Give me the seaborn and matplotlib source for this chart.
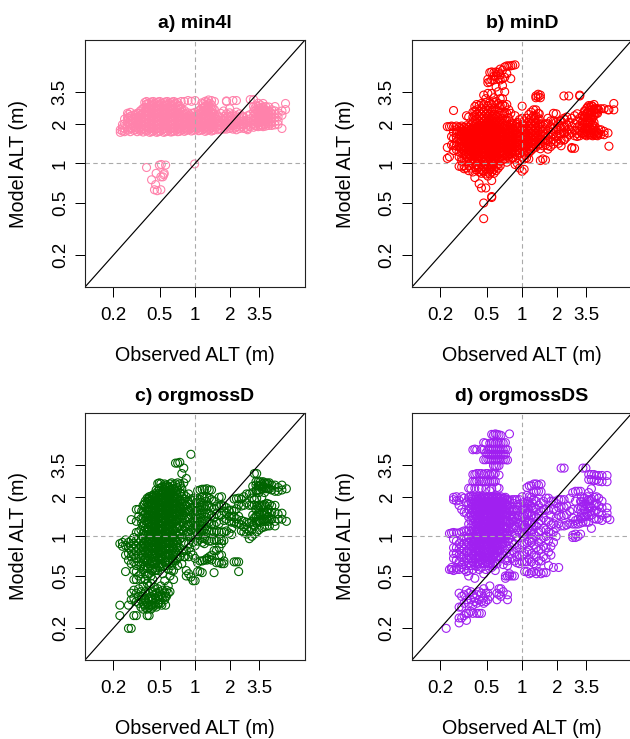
import pandas as pd
import matplotlib.pyplot as plt
import seaborn as sns
from matplotlib.ticker import FixedLocator, FixedFormatter, NullLocator

# each obs value goes with the list of model values read at that x
obs_a = [0.23, 0.24, 0.25, 0.265, 0.28, 0.30, 0.32, 0.34, 0.36, 0.385, 0.41, 0.44, 0.47, 0.50, 0.54, 0.58, 0.62,
         0.66, 0.71, 0.76, 0.81, 0.87, 0.93, 1.0, 1.07, 1.14, 1.22, 1.3, 1.38, 1.46, 1.55, 1.65, 1.75, 1.85, 1.97,
         2.1, 2.25, 2.4, 2.6, 2.8, 2.95, 3.15, 3.3, 3.45, 3.6, 3.8, 4.0, 4.25, 4.5, 4.8, 5.1, 5.5, 5.9]
model_a = [
    [1.72, 1.8], [1.76, 1.86, 1.97], [1.74, 1.84, 2.0, 2.17], [1.78, 1.9, 2.05, 2.22, 2.4], [1.74, 1.85, 1.98, 2.12, 2.28, 2.44],
    [1.78, 1.9, 2.03, 2.18, 2.33], [1.74, 1.85, 1.97, 2.1, 2.25, 2.4], [1.77, 1.89, 2.02, 2.16, 2.32, 2.5], [1.73, 1.84, 1.96, 2.09, 2.24, 2.4, 2.62],
    [1.76, 1.88, 2.0, 2.14, 2.29, 2.45, 2.63, 2.82, 2.95], [1.72, 1.83, 1.95, 2.08, 2.22, 2.37, 2.53, 2.71, 2.9],
    [1.76, 1.88, 2.01, 2.15, 2.29, 2.45, 2.62, 2.8, 2.95], [1.72, 1.83, 1.95, 2.08, 2.22, 2.37, 2.53, 2.71, 2.9],
    [1.76, 1.88, 2.01, 2.15, 2.29, 2.45, 2.62, 2.8, 2.95], [1.72, 1.83, 1.95, 2.08, 2.22, 2.37, 2.53, 2.71, 2.9],
    [1.76, 1.88, 2.01, 2.15, 2.29, 2.45, 2.62, 2.8, 2.95], [1.73, 1.83, 1.95, 2.08, 2.22, 2.37, 2.53, 2.71, 2.9],
    [1.76, 1.88, 2.01, 2.15, 2.29, 2.45, 2.62, 2.8, 2.95], [1.74, 1.84, 1.95, 2.08, 2.22, 2.37, 2.53, 2.71, 2.9],
    [1.78, 1.88, 2.01, 2.15, 2.29, 2.45, 2.62, 2.95], [1.75, 1.85, 1.96, 2.08, 2.22, 2.37, 2.52, 2.95],
    [1.8, 1.9, 2.01, 2.15, 2.29, 2.42, 3.0], [1.76, 1.86, 1.96, 2.08, 2.22, 2.4, 2.96], [1.8, 1.9, 2.01, 2.15, 2.29, 2.44, 3.0],
    [1.77, 1.87, 1.97, 2.08, 2.22, 2.37, 2.5], [1.8, 1.9, 2.01, 2.15, 2.3, 2.46, 2.62, 2.88], [1.75, 1.85, 1.96, 2.08, 2.22, 2.37, 2.53, 2.72, 2.96],
    [1.8, 1.9, 2.01, 2.15, 2.3, 2.46, 2.64, 2.84, 3.03], [1.76, 1.86, 1.97, 2.1, 2.24, 2.4, 2.58, 2.78, 3.0], [1.8, 1.92, 2.06, 2.2, 2.36, 2.56, 2.95],
    [1.8, 1.92, 2.03, 2.16, 2.3], [1.82, 1.94, 2.06, 2.22, 2.4], [1.82, 1.95, 2.1, 2.27, 2.5], [1.82, 1.93, 2.06, 2.2, 2.38, 2.95, 2.98],
    [1.84, 1.96, 2.08, 2.24, 2.42, 2.6], [1.82, 1.93, 2.05, 2.2, 2.35, 3.0], [1.8, 1.9, 2.02, 2.16, 2.3, 2.45, 3.0],
    [1.84, 1.95, 2.08, 2.22, 2.38], [1.84, 1.96, 2.1, 2.25], [1.8, 1.84, 1.95, 2.1, 2.3], [1.9, 2.03, 2.18, 2.35, 3.05],
    [1.88, 2.0, 2.14, 2.3, 2.48, 2.7, 3.05], [1.92, 2.05, 2.2, 2.36, 2.55, 2.74], [1.9, 2.02, 2.16, 2.32, 2.5, 2.7, 2.86],
    [1.92, 2.06, 2.2, 2.36, 2.55, 2.78], [1.9, 2.02, 2.16, 2.32, 2.5, 2.68, 2.85], [1.92, 2.05, 2.2, 2.36, 2.52, 2.7], [1.94, 2.06, 2.2, 2.34, 2.5, 2.68],
    [1.94, 2.08, 2.22, 2.38, 2.55], [1.96, 2.08, 2.22, 2.36, 2.5, 2.7], [1.98, 2.1, 2.26, 2.42], [1.84, 2.32, 2.5], [2.56, 2.85],
]
obs_a_low = [0.385, 0.495, 0.515, 0.56, 0.465, 0.545, 0.53, 0.51, 0.425, 0.46, 0.45, 0.475, 0.51, 0.99, 0.54]
model_a_low = [0.93, 0.97, 0.98, 0.97, 0.84, 0.84, 0.79, 0.79, 0.75, 0.69, 0.63, 0.62, 0.63, 0.99, 0.82]
# second pass over the solid part of the pink band
obs_a_fill = [0.27, 0.29, 0.31, 0.33, 0.35, 0.372, 0.397, 0.425, 0.455, 0.485, 0.52, 0.56, 0.6, 0.64, 0.685, 0.735, 0.785, 0.84, 0.9,
              0.965, 1.03, 1.1, 1.18, 1.26, 1.34, 1.42, 1.6, 1.8, 2.0, 2.2, 2.5, 2.7, 3.22, 3.52, 3.7, 3.9, 4.12, 4.4]
model_a_fill = [
    [1.82, 2.0, 2.2, 2.35], [1.85, 2.0, 2.15, 2.3], [1.8, 1.92, 2.06, 2.2, 2.36], [1.82, 1.95, 2.08, 2.24, 2.4], [1.8, 1.92, 2.05, 2.2, 2.36, 2.55], [1.8, 1.92, 2.05, 2.18, 2.33, 2.49, 2.66, 2.9],
    [1.79, 1.91, 2.04, 2.18, 2.33, 2.49, 2.66, 2.85], [1.74, 1.85, 1.98, 2.11, 2.25, 2.41, 2.57, 2.75, 2.93], [1.79, 1.91, 2.04, 2.18, 2.33, 2.49, 2.66, 2.85], [1.74, 1.85, 1.98, 2.11, 2.25, 2.41, 2.57, 2.75, 2.93],
    [1.79, 1.91, 2.04, 2.18, 2.33, 2.49, 2.66, 2.85], [1.74, 1.85, 1.98, 2.11, 2.25, 2.41, 2.57, 2.75, 2.93], [1.79, 1.91, 2.04, 2.18, 2.33, 2.49, 2.66, 2.85], [1.74, 1.85, 1.98, 2.11, 2.25, 2.41, 2.57, 2.75, 2.93],
    [1.79, 1.91, 2.04, 2.18, 2.33, 2.49, 2.66, 2.85], [1.75, 1.85, 1.98, 2.11, 2.25, 2.41, 2.57, 2.75], [1.8, 1.91, 2.04, 2.18, 2.33, 2.49], [1.78, 1.85, 1.98, 2.11, 2.25, 2.38], [1.82, 1.93, 2.04, 2.18, 2.33],
    [1.78, 1.88, 1.98, 2.11, 2.25, 2.4], [1.82, 1.93, 2.04, 2.18, 2.33], [1.78, 1.88, 1.98, 2.11, 2.25, 2.41, 2.55], [1.82, 1.93, 2.04, 2.18, 2.33, 2.49, 2.66, 2.85], [1.78, 1.88, 1.98, 2.11, 2.25, 2.41, 2.57, 2.75, 2.92],
    [1.82, 1.93, 2.04, 2.18, 2.33, 2.49, 2.66, 2.85], [1.78, 1.88, 1.98, 2.11, 2.25, 2.41, 2.6], [1.85, 1.98, 2.1, 2.25], [1.88, 2.0, 2.13, 2.28], [1.88, 2.0, 2.12, 2.28], [1.86, 1.98, 2.1, 2.25], [1.9, 2.0, 2.14, 2.28], [1.88, 2.0, 2.12],
    [1.95, 2.08, 2.22, 2.4, 2.6], [1.96, 2.1, 2.26, 2.44, 2.62], [1.96, 2.1, 2.27, 2.44, 2.62], [1.97, 2.1, 2.26, 2.42, 2.58], [2.0, 2.13, 2.28, 2.44], [2.0, 2.14, 2.28, 2.44],
]

obs_b = [0.23, 0.24, 0.25, 0.26, 0.275, 0.29, 0.305, 0.32, 0.335, 0.35, 0.365, 0.38, 0.395, 0.41, 0.43, 0.45, 0.47, 0.49,
         0.51, 0.53, 0.55, 0.575, 0.6, 0.625, 0.65, 0.68, 0.71, 0.74, 0.77, 0.8, 0.83, 0.87, 0.91, 0.95, 1.0, 1.04, 1.09,
         1.14, 1.19, 1.25, 1.31, 1.37, 1.43, 1.5, 1.58, 1.66, 1.75, 1.85, 1.95, 2.05, 2.15, 2.27, 2.4, 2.5, 2.65, 2.8,
         2.95, 3.1, 3.25, 3.4, 3.55, 3.7, 3.9, 4.1, 4.3, 4.5, 4.7, 5.0, 5.4, 5.5, 6.05]
model_b = [
    [1.9, 1.32, 1.09], [1.9, 1.12], [1.92, 1.6, 1.38], [2.52, 1.9, 1.72, 1.55, 1.36, 1.25], [1.92, 1.8, 1.68, 1.57, 1.46, 1.36, 1.27],
    [1.88, 1.76, 1.64, 1.53, 1.43, 1.33, 1.22, 1.12, 0.95], [1.92, 1.8, 1.7, 1.6, 1.5, 1.4, 1.3, 1.2, 1.1, 1.04, 0.94],
    [1.88, 1.76, 1.65, 1.55, 1.45, 1.36, 1.26, 1.16, 1.08, 0.96, 0.91], [2.3, 1.93, 1.8, 1.7, 1.6, 1.5, 1.41, 1.31, 1.22, 1.12, 1.03, 0.92],
    [2.25, 1.88, 1.76, 1.65, 1.55, 1.45, 1.36, 1.27, 1.18, 1.09, 0.96, 0.88], [1.96, 1.83, 1.71, 1.6, 1.5, 1.41, 1.31, 1.22, 1.13, 1.05, 0.92],
    [2.45, 2.25, 2.05, 1.9, 1.77, 1.66, 1.55, 1.45, 1.36, 1.26, 1.17, 1.09, 1.0, 0.86], [2.7, 2.5, 2.3, 2.12, 1.97, 1.83, 1.71, 1.6, 1.5, 1.4, 1.31, 1.22, 1.13, 1.04, 0.93, 0.78],
    [2.8, 2.55, 2.36, 2.18, 2.02, 1.88, 1.76, 1.65, 1.55, 1.45, 1.35, 1.26, 1.17, 1.08, 0.98, 0.89],
    [2.75, 2.48, 2.28, 2.1, 1.95, 1.82, 1.7, 1.6, 1.5, 1.4, 1.31, 1.22, 1.13, 1.04, 0.94, 0.86, 0.7], [2.85, 2.6, 2.36, 2.18, 2.02, 1.88, 1.76, 1.65, 1.55, 1.45, 1.36, 1.26, 1.17, 1.08, 0.98, 0.9, 0.84, 0.65],
    [3.3, 2.8, 2.5, 2.28, 2.1, 1.95, 1.82, 1.7, 1.6, 1.5, 1.4, 1.31, 1.22, 1.13, 1.04, 0.94, 0.86, 0.5, 0.38], [3.1, 2.9, 2.6, 2.36, 2.18, 2.02, 1.88, 1.76, 1.65, 1.55, 1.45, 1.36, 1.26, 1.17, 1.08, 0.98, 0.9, 0.83, 0.65],
    [4.35, 4.1, 3.4, 2.75, 2.5, 2.28, 2.1, 1.95, 1.82, 1.7, 1.6, 1.5, 1.4, 1.31, 1.22, 1.13, 1.04, 0.94, 0.86, 0.8],
    [4.9, 4.15, 2.9, 2.6, 2.36, 2.18, 2.02, 1.88, 1.76, 1.65, 1.55, 1.45, 1.36, 1.26, 1.17, 1.08, 0.98, 0.9, 0.83],
    [4.95, 4.3, 3.4, 2.8, 2.5, 2.28, 2.1, 1.95, 1.82, 1.7, 1.6, 1.5, 1.4, 1.31, 1.22, 1.13, 1.04, 0.94, 0.86, 0.74, 0.56, 0.55],
    [4.9, 4.6, 4.3, 3.15, 2.9, 2.6, 2.36, 2.18, 2.02, 1.88, 1.76, 1.65, 1.55, 1.45, 1.36, 1.26, 1.17, 1.08, 0.98, 0.9, 0.84],
    [4.95, 4.6, 3.8, 2.95, 2.55, 2.28, 2.1, 1.95, 1.82, 1.7, 1.6, 1.5, 1.4, 1.31, 1.22, 1.13, 1.04, 0.95, 0.88],
    [4.9, 4.4, 3.5, 2.85, 2.45, 2.22, 2.03, 1.88, 1.76, 1.65, 1.55, 1.45, 1.36, 1.26, 1.17, 1.08, 0.98, 0.92],
    [5.2, 4.7, 4.3, 3.1, 2.75, 2.4, 2.15, 1.97, 1.82, 1.7, 1.6, 1.5, 1.4, 1.31, 1.22, 1.13, 1.04, 0.96],
    [5.1, 4.4, 3.9, 3.1, 2.8, 2.45, 2.2, 2.0, 1.86, 1.74, 1.63, 1.52, 1.43, 1.33, 1.24, 1.15, 1.06],
    [5.4, 4.5, 3.5, 2.72, 2.4, 2.12, 1.93, 1.8, 1.68, 1.57, 1.46, 1.36, 1.27, 1.18, 1.08],
    [5.5, 4.8, 2.8, 2.4, 2.1, 1.92, 1.78, 1.66, 1.55, 1.45, 1.36, 1.26, 1.14, 1.02],
    [5.5, 2.55, 2.2, 1.98, 1.82, 1.7, 1.58, 1.47, 1.37, 1.27, 1.18, 1.1],
    [5.5, 4.4, 2.4, 2.03, 1.86, 1.72, 1.6, 1.5, 1.4, 1.3, 1.18, 1.07],
    [5.55, 2.0, 1.85, 1.7, 1.58, 1.47, 1.38, 1.28, 1.18, 1.1], [5.6, 2.3, 1.92, 1.76, 1.65, 1.53, 1.43, 1.33, 1.22, 1.07, 0.98],
    [2.05, 1.86, 1.7, 1.58, 1.47, 1.37, 1.27, 1.16, 1.0], [2.15, 1.9, 1.75, 1.62, 1.5, 1.4, 1.3, 1.2, 1.05, 0.92], [2.72, 2.2, 1.98, 1.8, 1.67, 1.55, 1.44, 1.34, 1.23, 1.12, 0.87],
    [2.1, 1.9, 1.75, 1.62, 1.5, 1.4, 1.3, 1.2, 1.08, 0.9], [2.2, 2.0, 1.84, 1.7, 1.58, 1.46, 1.35, 1.25, 1.1],
    [2.35, 2.1, 1.92, 1.76, 1.62, 1.5, 1.4, 1.3, 1.2, 1.08], [2.45, 2.2, 2.0, 1.84, 1.7, 1.58, 1.46, 1.35, 1.25],
    [2.55, 2.3, 2.1, 1.92, 1.76, 1.62, 1.5, 1.4, 1.3], [3.25, 3.15, 2.55, 2.3, 2.05, 1.86, 1.7, 1.56, 1.44, 1.33], [3.35, 3.2, 2.4, 2.15, 1.95, 1.78, 1.63, 1.5, 1.38],
    [3.3, 3.15, 2.0, 1.82, 1.66, 1.52, 1.4, 1.29, 1.05], [1.9, 1.75, 1.6, 1.47, 1.36, 1.08], [2.0, 1.82, 1.65, 1.5, 1.38, 1.06], [2.2, 2.0, 1.8, 1.62, 1.48, 1.36, 1.28],
    [2.1, 1.9, 1.72, 1.58, 1.45, 1.34], [2.4, 2.1, 1.85, 1.68, 1.52, 1.4], [2.38, 2.05, 1.8, 1.62, 1.46], [1.98, 1.78, 1.6, 1.42], [2.1, 1.86, 1.68, 1.5, 1.36],
    [3.25, 2.2, 1.9, 1.7, 1.5], [2.25, 1.96, 1.76, 1.58], [3.25, 2.05, 1.82, 1.66], [2.2, 1.9, 1.7, 1.32, 1.3], [2.3, 2.0, 1.78, 1.62, 1.3], [2.38, 2.1, 1.88, 1.68, 1.6],
    [3.3, 3.25, 2.2, 1.95, 1.75, 1.62], [2.3, 2.05, 1.85, 1.68], [2.5, 2.25, 2.0, 1.8, 1.65], [2.62, 2.4, 2.15, 1.95, 1.75, 1.62], [2.75, 2.5, 2.3, 2.1, 1.88, 1.65],
    [2.75, 2.55, 2.35, 2.15, 1.95, 1.72, 1.64], [2.8, 2.55, 2.3, 2.05, 1.85, 1.68], [2.6, 2.4, 1.75, 1.64], [2.55, 1.8, 1.68], [2.6, 1.8, 1.66],
    [2.6, 1.75, 1.65], [2.55, 1.7], [1.35, 2.55], [2.85, 2.55],
]
obs_b_fill = [0.3, 0.33, 0.36, 0.39, 0.42, 0.46, 0.5, 0.54, 0.59, 0.64, 0.69, 0.75, 0.82, 0.89, 1.06, 1.17, 1.28, 1.4, 2.1, 2.3, 3.3, 3.45, 3.62, 3.8, 4.0, 4.2, 4.4]
model_b_fill = [
    [1.84, 1.66, 1.47, 1.34], [1.84, 1.64, 1.46, 1.29, 1.16], [1.8, 1.67, 1.54, 1.44, 1.34, 1.24, 1.15], [1.85, 1.7, 1.58, 1.47, 1.37, 1.26, 1.16, 1.06],
    [1.86, 1.73, 1.62, 1.52, 1.43, 1.34, 1.24, 1.15, 1.06, 0.92], [2.2, 1.92, 1.79, 1.68, 1.58, 1.48, 1.38, 1.29, 1.2, 1.1, 1.02, 0.88], [2.4, 2.05, 1.85, 1.73, 1.62, 1.52, 1.43, 1.34, 1.24, 1.15, 1.06, 0.96],
    [2.2, 1.92, 1.79, 1.68, 1.58, 1.48, 1.38, 1.29, 1.2, 1.1, 1.02, 0.9], [2.3, 2.05, 1.85, 1.73, 1.62, 1.52, 1.43, 1.34, 1.24, 1.15, 1.06], [2.65, 2.1, 1.92, 1.79, 1.68, 1.58, 1.48, 1.38, 1.29, 1.2, 1.1], [2.3, 1.88, 1.73, 1.62, 1.52, 1.43, 1.34, 1.24, 1.15],
    [1.92, 1.79, 1.68, 1.55, 1.42, 1.33, 1.23, 1.14], [1.95, 1.73, 1.62, 1.52, 1.42, 1.32, 1.23], [1.98, 1.8, 1.66, 1.53, 1.43, 1.33, 1.24], [1.95, 1.8, 1.65, 1.53, 1.43, 1.33, 1.24, 1.15], [2.0, 1.84, 1.68, 1.55, 1.44, 1.34, 1.25], [2.2, 2.02, 1.85, 1.7, 1.57, 1.45],
    [2.38, 2.18, 1.98, 1.8, 1.64, 1.5, 1.4], [2.1, 1.9, 1.68], [2.15, 1.9, 1.7, 1.52], [2.3, 2.1, 1.88, 1.7], [2.5, 2.25, 2.05, 1.85, 1.7], [2.68, 2.42, 2.22, 2.05, 1.84, 1.7], [2.68, 2.42, 2.2, 2.02, 1.82, 1.66], [2.7, 2.45, 2.22, 1.98, 1.78, 1.62], [2.6, 2.42, 1.9, 1.72, 1.63], [2.6, 2.4, 1.7, 1.62],
]

obs_c = [0.228, 0.24, 0.255, 0.27, 0.285, 0.3, 0.315, 0.33, 0.345, 0.36, 0.375, 0.39, 0.405, 0.42, 0.435, 0.45, 0.465, 0.48, 0.495,
         0.51, 0.53, 0.55, 0.57, 0.59, 0.61, 0.63, 0.655, 0.68, 0.71, 0.74, 0.77, 0.8, 0.84, 0.88, 0.92, 0.96, 1.0, 1.05, 1.1,
         1.15, 1.2, 1.26, 1.32, 1.38, 1.45, 1.52, 1.6, 1.68, 1.76, 1.85, 1.95, 2.05, 2.15, 2.25, 2.35, 2.48, 2.6, 2.75, 2.9,
         3.05, 3.2, 3.35, 3.5, 3.7, 3.9, 4.1, 4.3, 4.5, 4.8, 5.1, 5.5, 6.0]
model_c = [
    [0.88, 0.25, 0.3], [0.9, 0.84], [0.94, 0.85, 0.72, 0.54], [0.9, 0.82, 0.74, 0.66, 0.3, 0.2], [1.34, 0.93, 0.84, 0.77, 0.7, 0.62, 0.2, 0.37, 0.33],
    [0.98, 0.88, 0.8, 0.72, 0.64, 0.55, 0.47, 0.39, 0.34, 0.25], [1.6, 1.3, 1.07, 0.93, 0.84, 0.76, 0.68, 0.6, 0.54, 0.47, 0.37, 0.32, 0.25],
    [1.6, 1.42, 1.08, 0.97, 0.89, 0.8, 0.72, 0.64, 0.5, 0.4, 0.35, 0.31], [1.36, 1.12, 0.93, 0.84, 0.76, 0.68, 0.6, 0.52, 0.47, 0.38, 0.33, 0.29],
    [1.72, 1.54, 1.38, 1.2, 1.05, 0.97, 0.88, 0.8, 0.72, 0.64, 0.56, 0.42, 0.36, 0.31, 0.28], [1.85, 1.65, 1.48, 1.32, 1.16, 1.03, 0.93, 0.84, 0.76, 0.68, 0.6, 0.52, 0.47, 0.38, 0.33, 0.29],
    [1.95, 1.76, 1.58, 1.42, 1.27, 1.13, 1.0, 0.89, 0.8, 0.72, 0.64, 0.57, 0.5, 0.44, 0.36, 0.31, 0.28, 0.25], [2.0, 1.84, 1.67, 1.52, 1.37, 1.24, 1.1, 0.97, 0.87, 0.78, 0.7, 0.62, 0.52, 0.42, 0.37, 0.33, 0.29, 0.25],
    [2.02, 1.88, 1.72, 1.58, 1.44, 1.3, 1.18, 1.05, 0.94, 0.84, 0.76, 0.68, 0.6, 0.5, 0.44, 0.35, 0.3, 0.28], [2.05, 1.9, 1.76, 1.62, 1.48, 1.35, 1.23, 1.12, 1.0, 0.9, 0.81, 0.73, 0.65, 0.57, 0.47, 0.38, 0.33, 0.29],
    [2.1, 1.94, 1.8, 1.66, 1.52, 1.4, 1.28, 1.16, 1.05, 0.95, 0.86, 0.78, 0.7, 0.62, 0.55, 0.41, 0.36, 0.31], [2.25, 2.05, 1.88, 1.73, 1.59, 1.45, 1.33, 1.21, 1.1, 0.99, 0.9, 0.82, 0.74, 0.66, 0.58, 0.37, 0.33, 0.29],
    [2.52, 2.2, 2.0, 1.84, 1.68, 1.54, 1.41, 1.28, 1.16, 1.05, 0.95, 0.86, 0.78, 0.7, 0.62, 0.55, 0.4, 0.35, 0.31], [2.55, 2.32, 2.12, 1.94, 1.78, 1.63, 1.49, 1.36, 1.24, 1.12, 1.0, 0.91, 0.82, 0.74, 0.66, 0.58, 0.38, 0.33],
    [2.52, 2.25, 2.05, 1.88, 1.72, 1.58, 1.44, 1.3, 1.18, 1.06, 0.96, 0.87, 0.78, 0.7, 0.62, 0.42, 0.36, 0.31], [2.4, 2.15, 1.96, 1.8, 1.65, 1.51, 1.38, 1.25, 1.12, 1.0, 0.92, 0.83, 0.75, 0.67, 0.59, 0.52, 0.39, 0.34],
    [2.5, 2.28, 2.08, 1.9, 1.74, 1.6, 1.46, 1.33, 1.2, 1.08, 0.97, 0.88, 0.8, 0.72, 0.64, 0.46, 0.37, 0.33], [2.45, 2.22, 2.02, 1.85, 1.69, 1.55, 1.42, 1.29, 1.16, 1.04, 0.94, 0.85, 0.77, 0.69, 0.6, 0.39, 0.35],
    [2.4, 2.18, 1.98, 1.8, 1.65, 1.5, 1.37, 1.24, 1.12, 1.0, 0.91, 0.82, 0.74, 0.66, 0.56, 0.42, 0.37], [2.5, 2.25, 2.05, 1.87, 1.7, 1.56, 1.42, 1.3, 1.18, 1.06, 0.96, 0.87, 0.79, 0.71, 0.63, 0.5, 0.38],
    [2.55, 2.3, 2.08, 1.9, 1.73, 1.58, 1.44, 1.3, 1.16, 1.04, 0.94, 0.85, 0.77, 0.68, 0.6, 0.55],
    [2.3, 2.05, 1.86, 1.7, 1.55, 1.4, 1.27, 1.13, 1.0, 0.9, 0.82, 0.74, 0.65, 0.55, 0.47], [3.6, 2.5, 2.2, 1.98, 1.78, 1.62, 1.48, 1.34, 1.2, 1.08, 0.95, 0.85, 0.76, 0.65],
    [3.6, 2.55, 2.25, 2.0, 1.8, 1.62, 1.46, 1.32, 1.16, 1.0, 0.9, 0.78, 0.68, 0.6], [3.65, 2.5, 2.15, 1.9, 1.7, 1.54, 1.38, 1.22, 1.05, 0.95, 0.82, 0.7],
    [3.0, 2.3, 2.0, 1.78, 1.6, 1.44, 1.28, 1.13, 0.98, 0.75, 0.62], [3.3, 2.55, 2.1, 1.84, 1.62, 1.44, 1.26, 1.1, 0.9, 0.78, 0.7], [2.75, 2.0, 1.72, 1.55, 1.38, 1.2, 1.05, 0.78, 0.55, 0.5],
    [2.1, 1.82, 1.58, 1.4, 1.22, 1.08, 0.88, 0.7, 0.52], [4.2, 1.9, 1.64, 1.45, 1.27, 1.12, 0.98, 0.76, 0.49], [1.95, 1.68, 1.48, 1.3, 1.15, 1.0, 0.9, 0.72, 0.46], [1.9, 1.65, 1.45, 1.28, 1.14, 1.0, 0.85, 0.68, 0.46],
    [2.22, 1.92, 1.68, 1.48, 1.3, 1.14, 1.03, 0.92, 0.63, 0.54], [2.25, 1.9, 1.66, 1.46, 1.28, 1.12, 0.95, 0.65, 0.54], [2.28, 1.98, 1.72, 1.5, 1.3, 1.12, 0.97, 0.9, 0.65, 0.53],
    [2.28, 1.95, 1.7, 1.48, 1.3, 1.13, 0.96, 0.88, 0.66], [2.3, 1.98, 1.72, 1.5, 1.3, 1.12, 0.94, 0.68, 0.66], [2.25, 1.95, 1.7, 1.48, 1.28, 1.1, 0.92, 0.7, 0.67], [2.25, 1.9, 1.66, 1.44, 1.24, 1.1, 0.92, 0.72, 0.66],
    [1.85, 1.62, 1.4, 1.22, 1.08, 0.94, 0.78, 0.53], [1.7, 1.48, 1.28, 1.1, 0.93, 0.78, 0.63], [1.98, 1.7, 1.45, 1.25, 1.08, 0.94, 0.82, 0.72, 0.63], [2.0, 1.72, 1.45, 1.08, 0.93, 0.88, 0.72, 0.62],
    [1.7, 1.55, 1.32, 1.08, 0.93, 0.65, 0.62], [1.65, 1.5, 1.35, 1.1], [1.58, 1.42, 1.3, 1.06], [1.58, 1.42, 1.28, 1.15, 1.03], [1.92, 1.55, 1.4, 1.28, 0.64], [1.93, 1.62, 1.36, 1.24, 0.64], [1.95, 1.75, 1.42, 1.26, 0.64, 0.54],
    [1.92, 1.7, 1.32, 1.22, 1.1], [2.0, 1.72, 1.3, 1.18, 1.08], [2.1, 1.8, 1.28, 1.14, 1.04], [2.1, 1.72, 1.26, 1.1, 0.96], [1.95, 1.72, 1.3, 1.12, 1.0], [3.0, 1.9, 1.73, 1.38, 1.2, 1.04], [3.0, 2.25, 1.95, 1.7, 1.42, 1.26, 1.08], [2.4, 2.15, 1.72, 1.5, 1.3, 1.12],
    [2.5, 2.3, 1.98, 1.68, 1.5, 1.34, 1.16], [2.55, 2.35, 2.15, 1.75, 1.5, 1.35, 1.18], [2.55, 2.32, 1.78, 1.52, 1.35, 1.2], [2.55, 2.3, 1.75, 1.5, 1.35, 1.2], [2.45, 2.25, 1.7, 1.52, 1.35], [2.45, 2.2, 1.72, 1.52, 1.3, 1.2], [2.35, 2.2, 1.48, 1.35], [2.45, 2.25, 1.5, 1.35], [2.3, 1.3], [2.55, 2.3],
]
obs_c_fill = [0.35, 0.37, 0.4, 0.43, 0.46, 0.49, 0.52, 0.56, 0.6, 0.645, 0.695, 0.75, 0.82, 0.9, 1.02, 1.12, 1.24, 3.1, 3.3, 3.45, 3.6, 3.8, 4.0, 4.2]
model_c_fill = [
    [1.56, 1.26, 0.84, 0.72, 0.62, 0.35], [1.76, 1.45, 1.24, 1.1, 0.88, 0.78, 0.66, 0.57, 0.34, 0.3], [1.92, 1.74, 1.58, 1.45, 1.3, 1.17, 1.04, 0.93, 0.84, 0.74, 0.66, 0.58, 0.34, 0.3],
    [1.98, 1.8, 1.64, 1.5, 1.37, 1.24, 1.12, 1.0, 0.9, 0.8, 0.72, 0.64, 0.55, 0.34, 0.3], [2.0, 1.84, 1.69, 1.55, 1.42, 1.3, 1.18, 1.08, 0.97, 0.88, 0.8, 0.72, 0.64, 0.55, 0.34, 0.3], [2.12, 1.96, 1.8, 1.66, 1.52, 1.38, 1.25, 1.13, 1.02, 0.92, 0.84, 0.76, 0.68, 0.6, 0.35, 0.31],
    [2.35, 2.15, 1.95, 1.8, 1.66, 1.52, 1.38, 1.26, 1.14, 1.02, 0.94, 0.85, 0.77, 0.69, 0.62, 0.35, 0.3], [2.35, 2.15, 1.95, 1.78, 1.62, 1.48, 1.35, 1.22, 1.1, 0.98, 0.9, 0.81, 0.73, 0.65, 0.35, 0.3], [2.35, 2.15, 1.94, 1.77, 1.61, 1.47, 1.34, 1.22, 1.1, 0.98, 0.9, 0.81, 0.73, 0.65],
    [2.42, 2.18, 1.98, 1.8, 1.64, 1.5, 1.36, 1.24, 1.1, 0.98, 0.88, 0.8, 0.72, 0.65], [2.35, 2.1, 1.9, 1.74, 1.58, 1.43, 1.3, 1.16, 1.03, 0.92, 0.82], [2.4, 2.12, 1.86, 1.68, 1.52, 1.36, 1.2, 1.05], [1.92, 1.7, 1.52, 1.33, 1.17, 1.02, 0.7], [1.76, 1.55, 1.36, 1.2, 1.04, 0.82],
    [1.8, 1.55, 1.38, 1.2, 1.08], [1.82, 1.58, 1.39, 1.2, 1.05], [1.85, 1.6, 1.4, 1.2, 1.05], [2.4, 2.15, 1.45, 1.22], [2.6, 2.45, 2.22, 1.6, 1.42, 1.3], [2.6, 2.42, 2.25, 1.65, 1.45, 1.3], [2.6, 2.42, 1.68, 1.45, 1.28], [2.6, 2.4, 1.72, 1.45, 1.3], [2.5, 2.3, 1.7, 1.45, 1.3], [2.5, 2.3, 1.6, 1.42, 1.3],
]

obs_d = [0.225, 0.24, 0.25, 0.26, 0.275, 0.29, 0.305, 0.32, 0.335, 0.35, 0.365, 0.38, 0.395, 0.41, 0.43, 0.45, 0.47, 0.49, 0.51,
         0.53, 0.55, 0.57, 0.59, 0.61, 0.635, 0.66, 0.69, 0.72, 0.75, 0.78, 0.82, 0.86, 0.9, 0.95, 1.0, 1.05, 1.1, 1.15, 1.2,
         1.26, 1.32, 1.38, 1.45, 1.52, 1.6, 1.68, 1.76, 1.85, 1.95, 2.05, 2.15, 2.28, 2.4, 2.55, 2.7, 2.85, 3.0, 3.15, 3.3,
         3.5, 3.7, 3.9, 4.1, 4.3, 4.5, 4.8, 5.3]
model_d = [
    [0.2], [0.56, 1.05], [0.58, 0.56, 1.06], [1.98, 1.9, 0.95, 0.82, 0.74, 0.68, 0.55, 1.07], [2.0, 1.86, 1.06, 0.92, 0.82, 0.74, 0.66, 0.58, 0.56],
    [1.72, 1.88, 1.06, 0.88, 0.8, 0.72, 0.64, 0.56, 0.37, 0.29, 0.24, 0.22], [2.0, 1.6, 1.08, 0.94, 0.85, 0.77, 0.69, 0.61, 0.58, 0.35, 0.29, 0.24],
    [1.95, 1.52, 1.1, 1.0, 0.88, 0.8, 0.72, 0.64, 0.56, 0.36, 0.31, 0.25], [1.82, 1.5, 1.1, 0.95, 0.85, 0.76, 0.68, 0.6, 0.54, 0.39, 0.33, 0.26, 0.23],
    [2.32, 1.98, 1.78, 1.6, 1.4, 1.24, 1.1, 0.98, 0.88, 0.8, 0.71, 0.63, 0.55, 0.5, 0.37, 0.31, 0.26], [2.3, 2.0, 1.84, 1.66, 1.48, 1.32, 1.18, 1.06, 0.95, 0.85, 0.76, 0.68, 0.6, 0.38, 0.33, 0.27],
    [4.55, 2.95, 2.62, 2.0, 1.86, 1.7, 1.54, 1.38, 1.24, 1.12, 1.0, 0.9, 0.81, 0.72, 0.64, 0.56, 0.36, 0.3, 0.26], [4.6, 2.95, 2.6, 2.32, 1.98, 1.82, 1.66, 1.5, 1.36, 1.22, 1.1, 0.98, 0.88, 0.8, 0.71, 0.63, 0.48, 0.34, 0.32],
    [4.55, 3.0, 2.62, 2.0, 1.85, 1.7, 1.55, 1.4, 1.26, 1.14, 1.03, 0.93, 0.84, 0.75, 0.67, 0.59, 0.36, 0.31, 0.26], [3.0, 2.62, 2.3, 2.0, 1.84, 1.68, 1.53, 1.38, 1.25, 1.12, 1.0, 0.9, 0.81, 0.72, 0.64, 0.56, 0.38, 0.33, 0.26],
    [4.6, 3.0, 2.6, 2.32, 1.98, 1.82, 1.67, 1.52, 1.38, 1.25, 1.13, 1.02, 0.92, 0.83, 0.74, 0.66, 0.58, 0.37, 0.32, 0.26], [5.15, 4.55, 3.82, 2.95, 2.62, 2.0, 1.86, 1.7, 1.55, 1.4, 1.26, 1.14, 1.03, 0.93, 0.84, 0.75, 0.67, 0.52, 0.4, 0.34, 0.31],
    [5.1, 4.3, 3.82, 3.0, 2.6, 2.28, 1.98, 1.82, 1.67, 1.52, 1.38, 1.25, 1.13, 1.02, 0.92, 0.83, 0.74, 0.66, 0.56, 0.37, 0.32], [4.55, 4.2, 3.85, 3.0, 2.62, 2.0, 1.85, 1.7, 1.55, 1.4, 1.26, 1.14, 1.03, 0.93, 0.84, 0.75, 0.67, 0.6, 0.37, 0.33],
    [5.1, 4.6, 4.2, 3.82, 2.95, 2.6, 2.22, 1.98, 1.82, 1.67, 1.52, 1.38, 1.25, 1.13, 1.02, 0.92, 0.83, 0.74, 0.66, 0.42, 0.35], [5.95, 5.1, 4.55, 4.15, 3.8, 3.0, 2.62, 2.3, 2.0, 1.86, 1.7, 1.55, 1.4, 1.26, 1.14, 1.03, 0.93, 0.84, 0.75, 0.67, 0.58],
    [5.9, 5.15, 4.6, 4.2, 3.82, 3.45, 2.95, 2.6, 2.02, 1.85, 1.68, 1.53, 1.38, 1.25, 1.12, 1.0, 0.9, 0.81, 0.72, 0.6], [6.0, 5.1, 4.55, 4.15, 3.8, 3.42, 3.0, 2.62, 1.98, 1.82, 1.67, 1.52, 1.38, 1.25, 1.13, 1.02, 0.92, 0.83, 0.74, 0.55],
    [5.95, 5.15, 4.6, 4.2, 3.85, 3.4, 2.35, 2.0, 1.85, 1.7, 1.55, 1.4, 1.26, 1.14, 1.03, 0.93, 0.84, 0.75, 0.62, 0.37, 0.33], [5.9, 5.1, 4.55, 4.15, 3.82, 3.45, 2.92, 2.32, 1.98, 1.82, 1.66, 1.5, 1.36, 1.22, 1.1, 0.98, 0.88, 0.78, 0.4, 0.36],
    [5.85, 5.15, 4.6, 4.2, 3.8, 2.0, 1.85, 1.68, 1.53, 1.38, 1.25, 1.12, 1.0, 0.9, 0.8, 0.68, 0.4, 0.35], [5.1, 4.55, 4.15, 3.82, 1.95, 1.8, 1.62, 1.46, 1.32, 1.18, 1.06, 0.95, 0.84, 0.72, 0.61, 0.38], [5.15, 4.6, 4.2, 3.82, 1.98, 1.8, 1.58, 1.42, 1.28, 1.14, 1.02, 0.9, 0.78, 0.66, 0.5, 0.48],
    [4.55, 3.8, 1.9, 1.7, 1.5, 1.32, 1.18, 1.05, 0.92, 0.8, 0.65, 0.6, 0.5, 0.36, 0.33], [6.0, 1.88, 1.62, 1.42, 1.25, 1.1, 0.96, 0.84, 0.74, 0.52, 0.5], [1.9, 1.55, 1.34, 1.18, 1.02, 0.9, 0.78, 0.68, 0.5], [1.9, 1.62, 1.4, 1.2, 1.05, 0.88, 0.75, 0.65, 0.5],
    [1.9, 1.58, 1.36, 1.16, 0.98, 0.82, 0.7, 0.63], [1.9, 1.7, 1.44, 1.24, 1.06, 0.86, 0.72, 0.62], [2.0, 1.65, 1.4, 1.22, 1.05, 0.86, 0.72, 0.64], [1.7, 1.42, 1.22, 1.04, 0.88, 0.74, 0.64, 0.54], [2.35, 2.05, 1.75, 1.48, 1.26, 1.08, 0.9, 0.76, 0.64, 0.54],
    [2.42, 2.0, 1.75, 1.5, 1.28, 1.1, 0.92, 0.78, 0.67, 0.52], [2.42, 1.98, 1.7, 1.45, 1.25, 1.06, 0.9, 0.74, 0.64, 0.53], [2.5, 2.15, 1.9, 1.65, 1.42, 1.22, 1.04, 0.86, 0.72, 0.62, 0.54], [2.5, 2.2, 1.85, 1.6, 1.4, 1.2, 1.0, 0.82, 0.7, 0.6, 0.52],
    [2.45, 2.2, 1.72, 1.46, 1.26, 1.08, 0.9, 0.78, 0.65, 0.54], [2.5, 2.18, 1.8, 1.55, 1.32, 1.1, 0.95, 0.8, 0.65, 0.52], [1.85, 1.6, 1.38, 1.15, 0.98, 0.84, 0.7, 0.53], [1.95, 1.6, 1.32, 1.12, 1.0, 0.82, 0.68, 0.53], [1.95, 1.58, 1.3, 1.08, 0.92, 0.76, 0.6],
    [1.85, 1.45, 1.22, 1.05, 0.84, 0.72], [1.85, 1.6, 1.25, 1.08, 0.9, 0.58], [1.78, 1.56, 1.38, 1.16, 1.0], [1.9, 1.65, 1.45, 1.25, 0.58], [1.9, 1.68, 1.42, 1.2, 3.3], [1.9, 1.66, 1.44, 1.2, 3.3], [1.7, 1.46, 1.22], [1.95, 1.55, 1.25],
    [2.15, 1.6, 1.38, 1.24, 1.02, 0.98], [2.2, 1.85, 1.32, 1.24, 1.04, 0.98], [2.2, 1.62, 1.35, 1.24, 1.0], [2.2, 1.85, 1.4, 1.26, 1.04], [3.3, 1.7, 1.4, 1.28], [3.3, 1.75, 1.42, 1.28], [2.95, 2.7, 2.15, 1.9, 1.65, 1.42, 1.28], [2.95, 2.7, 2.3, 1.92, 1.65, 1.45, 1.15],
    [2.95, 2.65, 1.98, 1.72, 1.56, 1.36], [2.9, 2.68, 2.0, 1.78, 1.58, 1.35], [2.9, 2.62, 1.95, 1.7, 1.52, 1.35], [2.9, 2.6, 1.85, 1.65, 1.45, 1.32], [2.9, 2.6, 1.65, 1.5, 1.38], [2.82, 2.55, 1.36], [2.9, 2.62, 1.34],
]
obs_d_fill = [0.34, 0.37, 0.4, 0.42, 0.44, 0.46, 0.48, 0.5, 0.52, 0.54, 0.56, 0.58, 0.6, 0.62, 0.65, 0.68, 0.71, 0.74, 0.78, 0.84, 0.92, 1.02, 1.12, 1.22, 3.2, 3.4, 3.6, 3.8, 5.6]
model_d_fill = [
    [0.9, 0.76, 0.66], [1.92, 1.76, 1.6, 1.44, 0.92, 0.84, 0.76, 0.68, 0.6], [1.92, 1.76, 1.6, 1.44, 1.04, 0.94, 0.85, 0.76, 0.68, 0.6], [1.92, 1.76, 1.6, 1.44, 1.3, 1.18, 1.07, 0.95, 0.86, 0.77, 0.69, 0.62],
    [1.94, 1.78, 1.62, 1.46, 1.32, 1.19, 1.07, 0.96, 0.87, 0.78, 0.7, 0.62], [1.9, 1.75, 1.6, 1.45, 1.32, 1.19, 1.08, 0.97, 0.88, 0.79, 0.71, 0.63], [1.94, 1.78, 1.62, 1.46, 1.32, 1.19, 1.07, 0.96, 0.87, 0.78, 0.7, 0.62],
    [1.9, 1.75, 1.6, 1.45, 1.32, 1.19, 1.08, 0.97, 0.88, 0.79, 0.71, 0.63], [1.94, 1.78, 1.62, 1.46, 1.32, 1.19, 1.07, 0.96, 0.87, 0.78, 0.7, 0.62], [1.9, 1.75, 1.6, 1.45, 1.32, 1.19, 1.08, 0.97, 0.88, 0.79, 0.71, 0.63], [1.94, 1.78, 1.62, 1.46, 1.32, 1.19, 1.07, 0.96, 0.87, 0.78, 0.7, 0.62],
    [1.9, 1.75, 1.6, 1.45, 1.32, 1.19, 1.08, 0.97, 0.88, 0.79, 0.71, 0.63], [1.94, 1.78, 1.62, 1.46, 1.32, 1.19, 1.07, 0.96, 0.87, 0.78, 0.7], [1.9, 1.75, 1.6, 1.45, 1.32, 1.19, 1.08, 0.97, 0.88, 0.79, 0.71], [1.94, 1.78, 1.62, 1.46, 1.32, 1.19, 1.07, 0.96, 0.87, 0.78],
    [1.9, 1.75, 1.6, 1.45, 1.32, 1.19, 1.08, 0.97, 0.88], [1.94, 1.78, 1.62, 1.46, 1.32, 1.19, 1.07, 0.96], [1.9, 1.75, 1.6, 1.45, 1.3, 1.15, 1.02], [1.72, 1.55, 1.4, 1.25, 1.1, 0.96], [1.78, 1.6, 1.45, 1.3, 1.15], [1.75, 1.58, 1.42, 1.28, 1.12], [1.8, 1.62, 1.46, 1.3, 1.15, 1.0], [1.85, 1.65, 1.48, 1.3, 1.15], [1.8, 1.62, 1.46, 1.28, 1.12, 0.95],
    [2.0, 1.82, 1.66, 1.5, 1.36], [1.95, 1.78, 1.6, 1.42], [2.0, 1.86, 1.68, 1.5], [1.88, 1.7, 1.55], [1.34],
]

tick_vals = [0.2, 0.5, 1, 2, 3.5]
tick_labels = ["0.2", "0.5", "1", "2", "3.5"]
panels = [
    ("a) min4l", "#FF82AB", obs_a + obs_a_fill, model_a + model_a_fill),
    ("b) minD", "#FF0000", obs_b + obs_b_fill, model_b + model_b_fill),
    ("c) orgmossD", "#006400", obs_c + obs_c_fill, model_c + model_c_fill),
    ("d) orgmossDS", "#A020F0", obs_d + obs_d_fill, model_d + model_d_fill),
]
axis_lim = (0.115, 8.65)

sns.set_style("ticks")
plt.rcParams["font.family"] = ["Liberation Sans", "DejaVu Sans"]
plt.rcParams["text.color"] = "black"
plt.rcParams["axes.labelcolor"] = "black"
plt.rcParams["xtick.labelcolor"] = "black"
plt.rcParams["ytick.labelcolor"] = "black"

W, H = 630, 739
fig = plt.figure(figsize=(W / 100, H / 100), dpi=100)
boxes = [(85, 40), (412, 40), (85, 413), (412, 413)]


def long_table(obs, model):
    rows = []
    for o, col in zip(obs, model):
        rows.extend((o, m) for m in col)
    return pd.DataFrame(rows, columns=["obs", "model"])


# the fill lists are joined on, so zip has to pair base and fill separately
base_lists = {"a": (obs_a, model_a, obs_a_fill, model_a_fill), "b": (obs_b, model_b, obs_b_fill, model_b_fill),
              "c": (obs_c, model_c, obs_c_fill, model_c_fill), "d": (obs_d, model_d, obs_d_fill, model_d_fill)}

for (title, color, _, _), (left, top) in zip(panels, boxes):
    ax = fig.add_axes([left / W, 1 - (top + 247) / H, 220 / W, 247 / H])
    o1, m1, o2, m2 = base_lists[title[0]]
    df = pd.concat([long_table(o1, m1), long_table(o2, m2)])
    if title.startswith("a"):
        df = pd.concat([df, pd.DataFrame({"obs": obs_a_low, "model": model_a_low})])
    sns.scatterplot(data=df, x="obs", y="model", ax=ax, s=33, marker="o",
                    facecolors="none", edgecolor=color, linewidth=0.8, clip_on=True)
    ax.set_xscale("log")
    ax.set_yscale("log")
    ax.set_xlim(axis_lim)
    ax.set_ylim(axis_lim)
    ax.axhline(1, color="#aaaaaa", lw=0.8, ls=(0, (4, 3)))
    ax.axvline(1, color="#aaaaaa", lw=0.8, ls=(0, (4, 3)))
    ax.plot(axis_lim, axis_lim, color="black", lw=0.85)
    for axis in (ax.xaxis, ax.yaxis):
        axis.set_major_locator(FixedLocator(tick_vals))
        axis.set_major_formatter(FixedFormatter(tick_labels))
        axis.set_minor_locator(NullLocator())
    ax.tick_params(length=7.2, width=0.72, labelsize=13.5, color="black")
    ax.tick_params(axis="x", pad=7.5)
    ax.tick_params(axis="y", pad=4.5)
    for lab in ax.get_yticklabels():
        lab.set_rotation(90)
        lab.set_va("center")
    for sp in ax.spines.values():
        sp.set_linewidth(0.8)
        sp.set_color("#222222")
    ax.set_title(title, fontsize=14, fontweight="bold", pad=8.5, color="black")
    ax.set_xlabel("Observed ALT (m)", fontsize=14.2, va="center")
    ax.set_ylabel("Model ALT (m)", fontsize=14.2, va="center")
    ax.xaxis.set_label_coords(0.5, -68.5 / 247)
    ax.yaxis.set_label_coords(-66.5 / 220, 0.5)

fig.savefig("out.png", dpi=100)
